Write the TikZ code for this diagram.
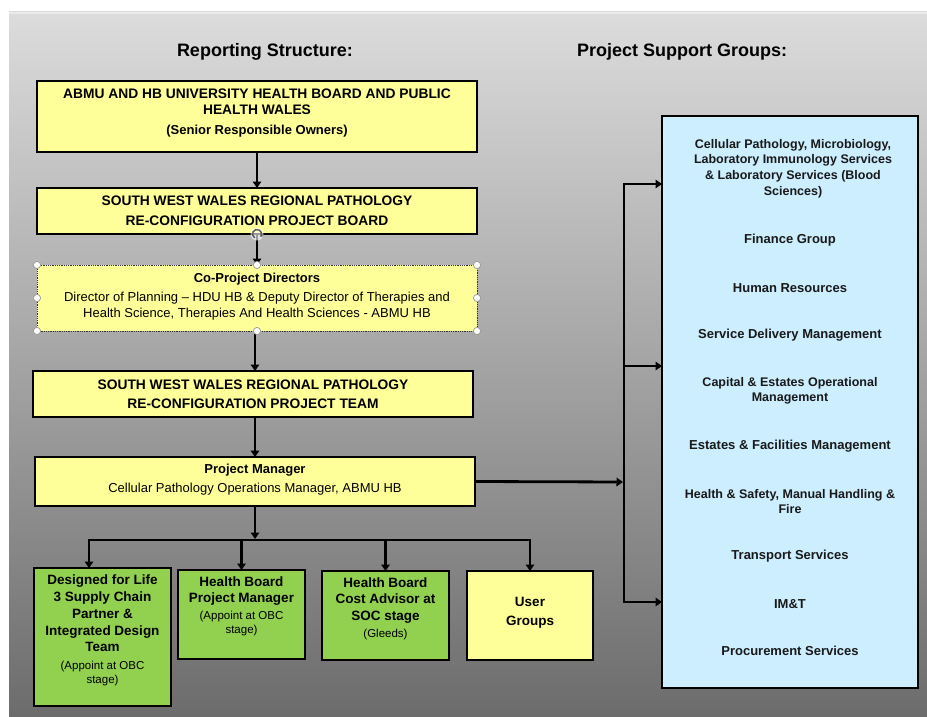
\documentclass[tikz,border=0pt]{standalone}
\usepackage{fontspec}
\setmainfont{Liberation Sans}
\usetikzlibrary{arrows.meta}
\definecolor{yel}{HTML}{FFFF99}
\definecolor{grn}{HTML}{92D050}
\definecolor{blu}{HTML}{CCEEFF}
\definecolor{bgtop}{HTML}{DCDCDC}
\definecolor{bgmid}{HTML}{B8B8B8}
\definecolor{bgbot}{HTML}{6C6C6C}
\begin{document}
\begin{tikzpicture}[x=1pt,y=-1pt,
  bx/.style={draw=black, line width=2pt, inner sep=0pt, outer sep=0pt, anchor=north west},
  bt/.style={font=\bfseries\fontsize{13}{16}\selectfont, align=center, inner sep=0pt, text=black},
  captxt/.style={font=\bfseries\fontsize{13.8}{16}\selectfont, align=center, inner sep=0pt, text=black},
  gt/.style={font=\bfseries\fontsize{13.5}{16.5}\selectfont, align=center, inner sep=0pt, text=black},
  st/.style={font=\bfseries\fontsize{13}{16}\selectfont, align=center, inner sep=0pt, text=black!90},
  ttl/.style={font=\bfseries\fontsize{18}{22}\selectfont, inner sep=0pt},
  arr/.style={line width=2.8pt, -{Triangle[length=6.5pt,width=8.5pt]}},
  both/.style={line width=2.8pt, {Triangle[length=6.5pt,width=8.5pt]}-{Triangle[length=6.5pt,width=8.5pt]}},
  hdl/.style={fill=white, draw=gray!80, line width=0.7pt}]
\useasboundingbox (0,0) rectangle (927,717);
\fill[white] (0,0) rectangle (927,717);
\shade[top color=bgtop, middle color=bgmid, bottom color=bgbot] (9,12) rectangle (927,717);
\draw[white!92!black, line width=2pt] (9,13) -- (927,13);

% titles
\node[ttl] (t1) at (265,52) {Reporting Structure:};
\node[ttl] (t2) at (682,52) {Project Support Groups:};

% reporting boxes
\node[bx, fill=yel, minimum width=440, minimum height=71] (b1) at (37,81) {};
\node[captxt] (b1t) at (257,113) {ABMU AND HB UNIVERSITY HEALTH BOARD AND PUBLIC\\HEALTH WALES\\[4pt]{\fontsize{13}{16}\selectfont (Senior Responsible Owners)}};

\node[bx, fill=yel, minimum width=440, minimum height=46] (b2) at (37,188) {};
\node[captxt] (b2t) at (257,211) {SOUTH WEST WALES REGIONAL PATHOLOGY\\[4pt]RE-CONFIGURATION PROJECT BOARD};

\node[bx, fill=yel, draw=black!80, line width=0.8pt, densely dotted, minimum width=440, minimum height=66] (b3) at (37,265) {};
\node[bt] (b3t) at (257,296.5) {Co-Project Directors\\[3pt]{\mdseries Director of Planning – HDU HB \& Deputy Director of Therapies and}\\{\mdseries Health Science, Therapies And Health Sciences - ABMU HB}};

\node[bx, fill=yel, minimum width=440, minimum height=46] (b4) at (33,371) {};
\node[captxt] (b4t) at (253,394.5) {SOUTH WEST WALES REGIONAL PATHOLOGY\\[3pt]RE-CONFIGURATION PROJECT TEAM};

\node[bx, fill=yel, minimum width=440, minimum height=49] (b5) at (35,457) {};
\node[bt] (b5t) at (255,479.5) {Project Manager\\[3pt]{\mdseries Cellular Pathology Operations Manager, ABMU HB}};

% lower boxes
\node[bx, fill=grn, minimum width=137, minimum height=138] (bA) at (34,568) {};
\node[gt] (bAt) at (102.5,630.5) {Designed for Life\\[0.3pt]3 Supply Chain\\[0.3pt]Partner \&\\[0.3pt]Integrated Design\\[0.3pt]Team\\[1.5pt]{\mdseries\fontsize{11.5}{14}\selectfont (Appoint at OBC}\\[-2.5pt]{\mdseries\fontsize{11.5}{14}\selectfont stage)}};

\node[bx, fill=grn, minimum width=127, minimum height=89] (bB) at (178,570) {};
\node[gt] (bBt) at (241.5,606.5) {Health Board\\Project Manager\\[0.5pt]{\mdseries\fontsize{11.5}{14}\selectfont (Appoint at OBC}\\[-2.5pt]{\mdseries\fontsize{11.5}{14}\selectfont stage)}};

\node[bx, fill=grn, minimum width=127, minimum height=89] (bC) at (322,571) {};
\node[gt] (bCt) at (385.5,608.5) {Health Board\\Cost Advisor at\\SOC stage\\[0.5pt]{\mdseries\fontsize{11.5}{14}\selectfont (Gleeds)}};

\node[bx, fill=yel, minimum width=126, minimum height=89] (bD) at (467,571) {};
\node[gt] (bDt) at (530,612.5) {User\\[2.5pt]Groups};

% support groups box
\node[bx, fill=blu, minimum width=256, minimum height=572] (bl) at (662,116) {};
\node[st, font=\bfseries\fontsize{12.5}{15.7}\selectfont] (g1) at (793,168.5) {Cellular Pathology, Microbiology,\\Laboratory Immunology Services\\\& Laboratory Services (Blood\\Sciences)};
\node[st] (g2) at (790,240) {Finance Group};
\node[st] (g3) at (790,288) {Human Resources};
\node[st] (g4) at (790,335) {Service Delivery Management};
\node[st, font=\bfseries\fontsize{12.5}{15}\selectfont] (g5) at (790,390.5) {Capital \& Estates Operational\\Management};
\node[st] (g6) at (790,446) {Estates \& Facilities Management};
\node[st, font=\bfseries\fontsize{12.5}{15}\selectfont] (g7) at (790,501.5) {Health \& Safety, Manual Handling \&\\Fire};
\node[st] (g8) at (790,556) {Transport Services};
\node[st] (g9) at (790,604) {IM\&T};
\node[st] (g10) at (790,651) {Procurement Services};

% connectors
\draw[arr] (b1.south) -- (b2.north);
\draw[arr] (b2.south) -- (b3.north);
\draw[arr] (b3.south -| b5.north) -- (b4.north -| b5.north);
\draw[arr] (b4.south -| b5.north) -- (b5.north);

\coordinate (bus) at (255,540);
\coordinate (ja) at (89,540);
\coordinate (jd) at (530,540);
\draw[arr, shorten >=1pt] (b5.south) -- (bus);
\draw[both] (ja |- bA.north) -- (ja) -- (jd) -- (jd |- bD.north);
\draw[arr] (bB.north |- bus) -- (bB.north);
\draw[arr] (bC.north |- bus) -- (bC.north);

\coordinate (tt) at (624,184);
\coordinate (tm) at (624,366);
\coordinate (tj) at (624,482);
\coordinate (tb) at (624,602);
\draw[arr, shorten >=1pt] (b5.east) -- (tj);
\draw[both] (tt -| bl.west) -- (tt) -- (tb) -- (tb -| bl.west);
\draw[arr] (tm) -- (tm -| bl.west);

% selection handles on the directors box
\foreach \p in {north west, north, north east, west, east, south west, south, south east}
  \filldraw[hdl] (b3.\p) circle (3.6);
\fill[white, opacity=0.6] (b2.south) circle (6.5);
\draw[gray!70!black, line width=1.4pt, -{Stealth[length=3pt,width=4pt]}] (b2.south) ++(120:4.5) arc[start angle=120, end angle=400, radius=4.5];
\end{tikzpicture}
\end{document}
